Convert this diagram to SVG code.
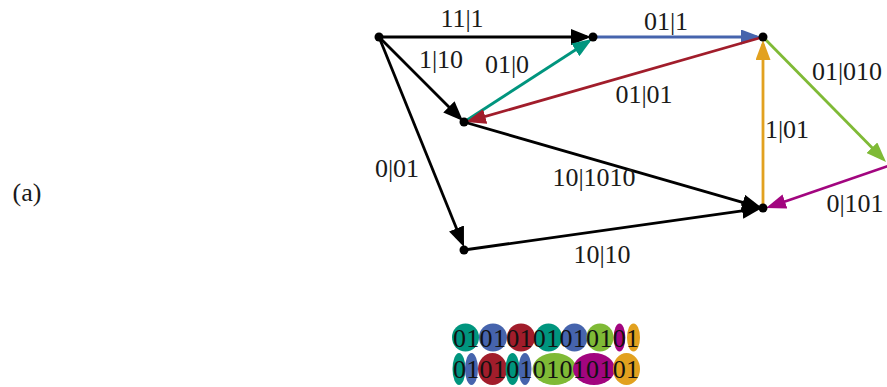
<svg xmlns="http://www.w3.org/2000/svg" width="887" height="387" viewBox="0 0 887 387">
<defs>
  <marker id="ak" viewBox="0 0 20 16" refX="16" refY="8" markerWidth="20" markerHeight="16" markerUnits="userSpaceOnUse" orient="auto"><path d="M0,0 L20,8 L0,16 z" fill="#000"/></marker>
  <marker id="abl" viewBox="0 0 20 15" refX="16" refY="7.5" markerWidth="20" markerHeight="15" markerUnits="userSpaceOnUse" orient="auto"><path d="M0,0 L20,7.5 L0,15 z" fill="#4664ad"/></marker>
  <marker id="atl" viewBox="0 0 20 15" refX="16" refY="7.5" markerWidth="20" markerHeight="15" markerUnits="userSpaceOnUse" orient="auto"><path d="M0,0 L20,7.5 L0,15 z" fill="#00957e"/></marker>
  <marker id="ard" viewBox="0 0 20 15" refX="16" refY="7.5" markerWidth="20" markerHeight="15" markerUnits="userSpaceOnUse" orient="auto"><path d="M0,0 L20,7.5 L0,15 z" fill="#a11d2b"/></marker>
  <marker id="agr" viewBox="0 0 20 15" refX="16" refY="7.5" markerWidth="20" markerHeight="15" markerUnits="userSpaceOnUse" orient="auto"><path d="M0,0 L20,7.5 L0,15 z" fill="#7fba36"/></marker>
  <marker id="amg" viewBox="0 0 20 15" refX="16" refY="7.5" markerWidth="20" markerHeight="15" markerUnits="userSpaceOnUse" orient="auto"><path d="M0,0 L20,7.5 L0,15 z" fill="#a2057f"/></marker>
  <marker id="aor" viewBox="0 0 20 15" refX="16" refY="7.5" markerWidth="20" markerHeight="15" markerUnits="userSpaceOnUse" orient="auto"><path d="M0,0 L20,7.5 L0,15 z" fill="#e2a11f"/></marker>
</defs>
<rect width="887" height="387" fill="#fff"/>

<text x="27" y="201" font-family="Liberation Serif" font-size="26" fill="#1a1a1a" text-anchor="middle">(a)</text>

<g id="connectors" fill="none" stroke-width="2.8">
  <line stroke="#000" x1="379" y1="37" x2="587" y2="37" marker-end="url(#ak)"/>
  <line stroke="#000" x1="379" y1="37" x2="460.2" y2="118.2" marker-end="url(#ak)"/>
  <line stroke="#000" x1="379" y1="37" x2="462.5" y2="243.3" marker-end="url(#ak)"/>
  <line stroke="#4664ad" x1="593" y1="37" x2="757" y2="37" marker-end="url(#abl)"/>
  <line stroke="#00957e" x1="464" y1="122" x2="588.8" y2="41.2" marker-end="url(#atl)"/>
  <line stroke="#a11d2b" x1="763" y1="37" x2="469.8" y2="120.9" marker-end="url(#ard)"/>
  <line stroke="#000" x1="464" y1="122" x2="758.2" y2="206.9" marker-end="url(#ak)"/>
  <line stroke="#000" x1="464" y1="250" x2="758" y2="208.6" marker-end="url(#ak)"/>
  <line stroke="#7fba36" x1="763" y1="37" x2="883.2" y2="159.1" marker-end="url(#agr)"/>
  <line stroke="#a2057f" x1="891" y1="165" x2="769.8" y2="206.7" marker-end="url(#amg)"/>
  <line stroke="#e2a11f" x1="763" y1="208" x2="763" y2="44" marker-end="url(#aor)"/>
</g>

<g id="labels" font-family="Liberation Serif" font-size="26" fill="#1a1a1a" text-anchor="middle">
  <text x="462" y="27">11|1</text>
  <text x="441" y="68">1|10</text>
  <text x="507" y="73">01|0</text>
  <text x="666" y="30">01|1</text>
  <text x="644" y="103">01|01</text>
  <text x="847" y="80">01|010</text>
  <text x="787" y="138">1|01</text>
  <text x="855" y="212">0|101</text>
  <text x="397" y="177">0|01</text>
  <text x="594" y="186">10|1010</text>
  <text x="602" y="263">10|10</text>
</g>

<g id="node-A"><circle fill="#000" cx="379" cy="37" r="4.5"/></g>
<g id="node-B"><circle fill="#000" cx="593" cy="37" r="4.5"/></g>
<g id="node-C"><circle fill="#000" cx="763" cy="37" r="4.5"/></g>
<g id="node-D"><circle fill="#000" cx="464" cy="122" r="4.5"/></g>
<g id="node-E"><circle fill="#000" cx="763" cy="208" r="4.5"/></g>
<g id="node-F"><circle fill="#000" cx="464" cy="250" r="4.5"/></g>
<g id="node-G"><circle fill="#000" cx="892" cy="165" r="4.5"/></g>

<g id="sequence-top">
  <ellipse cx="465.5" cy="337.5" rx="13.5" ry="14" fill="#00957e"/>
  <ellipse cx="493" cy="337.5" rx="14" ry="14" fill="#4664ad"/>
  <ellipse cx="521" cy="337.5" rx="14" ry="14" fill="#a11d2b"/>
  <ellipse cx="548.5" cy="337.5" rx="13.5" ry="14" fill="#00957e"/>
  <ellipse cx="574.5" cy="337.5" rx="13" ry="14" fill="#4664ad"/>
  <ellipse cx="600" cy="337.5" rx="13.5" ry="14" fill="#7fba36"/>
  <ellipse cx="619.5" cy="337.5" rx="5.8" ry="14" fill="#a2057f"/>
  <ellipse cx="633.5" cy="337.5" rx="6.5" ry="14" fill="#e2a11f"/>
  <text x="453" y="347" textLength="186" lengthAdjust="spacing" font-family="Liberation Serif" font-size="26" fill="#111">01010101010101</text>
</g>

<g id="sequence-bottom">
  <ellipse cx="459" cy="369" rx="6.5" ry="16" fill="#00957e"/>
  <ellipse cx="471.5" cy="369" rx="6.5" ry="16" fill="#4664ad"/>
  <ellipse cx="492.5" cy="369" rx="14.5" ry="16" fill="#a11d2b"/>
  <ellipse cx="512.5" cy="369" rx="7" ry="16" fill="#00957e"/>
  <ellipse cx="525" cy="369" rx="6.5" ry="16" fill="#4664ad"/>
  <ellipse cx="554.5" cy="369" rx="22" ry="16" fill="#7fba36"/>
  <ellipse cx="594" cy="369" rx="21" ry="16" fill="#a2057f"/>
  <ellipse cx="626.5" cy="369" rx="13.5" ry="16" fill="#e2a11f"/>
  <text x="453" y="378" textLength="186" lengthAdjust="spacing" font-family="Liberation Serif" font-size="26" fill="#111">01010101010101</text>
</g>
</svg>
